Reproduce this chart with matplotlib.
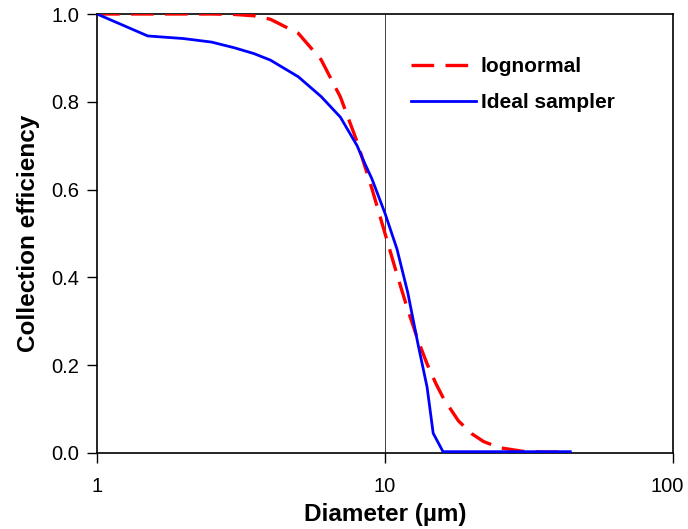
import matplotlib

matplotlib.use("Agg")
import matplotlib.pyplot as plt
from matplotlib.transforms import ScaledTranslation
from matplotlib.ticker import FixedLocator, FixedFormatter, NullLocator

plt.rcParams["font.family"] = ["Liberation Sans", "DejaVu Sans"]

# lognormal collection curve
logn_d = [1, 1.5, 2, 2.5, 3, 3.5, 4, 5, 6, 7, 8, 9, 10, 11, 12, 13, 14, 15, 16, 18, 20, 22, 25, 30, 35, 40]
logn_eff = [1.0, 1.0, 1.0, 1.0, 0.999, 0.996, 0.988, 0.956, 0.896, 0.811, 0.709, 0.603, 0.50,
            0.407, 0.326, 0.258, 0.203, 0.159, 0.123, 0.073, 0.044, 0.026, 0.012, 0.004, 0.002, 0.002]

# ideal sampler curve
ideal_d = [1, 1.5, 2, 2.5, 3, 3.5, 4, 5, 6, 7, 8, 8.5, 9, 10, 11, 12, 13, 14, 14.7, 15.9, 20, 30, 44]
ideal_eff = [1.0, 0.95, 0.944, 0.936, 0.923, 0.91, 0.895, 0.857, 0.812, 0.765, 0.70, 0.66, 0.625,
             0.546, 0.465, 0.365, 0.25, 0.15, 0.045, 0.003, 0.003, 0.003, 0.003]

xticks = [1, 10, 100]
xtick_labels = ["1", "10", "100"]
yticks = [0.0, 0.2, 0.4, 0.6, 0.8, 1.0]

fig = plt.figure(figsize=(6.88, 5.29), dpi=100)
ax = fig.add_axes([97 / 688, 1 - 453 / 529, 576 / 688, 439 / 529])

ax.axvline(10, color="#222222", linewidth=0.6, zorder=1)
ax.plot(logn_d, logn_eff, color="#ff0000", linewidth=2.4, linestyle=(0, (6.8, 3.4)),
        label="lognormal", zorder=3)
ax.plot(ideal_d, ideal_eff, color="#0000ff", linewidth=2.0, label="Ideal sampler", zorder=4)

ax.set_xscale("log")
ax.set_xlim(1, 100)
ax.set_ylim(0, 1.0)
ax.xaxis.set_major_locator(FixedLocator(xticks))
ax.xaxis.set_major_formatter(FixedFormatter(xtick_labels))
ax.xaxis.set_minor_locator(NullLocator())
ax.set_yticks(yticks)
ax.set_yticklabels([f"{v:.1f}" for v in yticks])

ax.tick_params(axis="both", direction="out", length=7, width=1.0, labelsize=14.5, colors="black")
ax.tick_params(axis="x", pad=10.5)
ax.tick_params(axis="y", pad=6)
for spine in ax.spines.values():
    spine.set_linewidth(1.2)

# the last tick label sits a little left so it stays inside the picture
last = ax.get_xticklabels()[-1]
last.set_transform(last.get_transform() + ScaledTranslation(-6 / 100, 0, fig.dpi_scale_trans))

ax.set_xlabel("Diameter (µm)", fontsize=17.5, fontweight="bold", labelpad=5)
ax.set_ylabel("Collection efficiency", fontsize=17.5, fontweight="bold", labelpad=8)

ax.legend(loc="upper left", bbox_to_anchor=(411 / 688, 1 - 57 / 529), bbox_transform=fig.transFigure,
          frameon=False, borderpad=0, borderaxespad=0, handlelength=3.1, handletextpad=0.25,
          labelspacing=0.82, prop={"size": 15, "weight": "bold"})

fig.savefig("out.png", dpi=100)
